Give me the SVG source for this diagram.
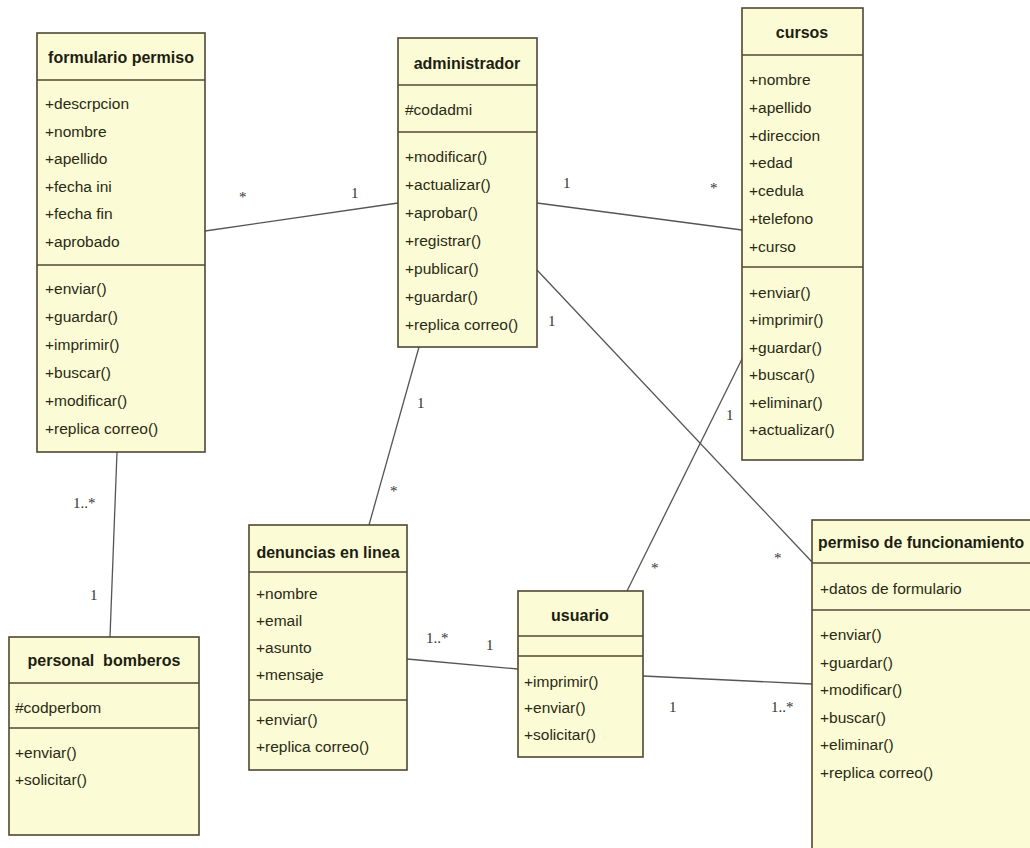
<svg xmlns="http://www.w3.org/2000/svg" width="1030" height="848" viewBox="0 0 1030 848">
<style>
.box{fill:#fbfbd6;stroke:#4f4834;stroke-width:1.6}
.sep{stroke:#4f4834;stroke-width:1.6}
.t{font-family:"Liberation Sans",Arial,sans-serif;font-size:15.5px;fill:#2a2a14}
.h{font-family:"Liberation Sans",Arial,sans-serif;font-size:16px;font-weight:bold;fill:#1e1e10;text-anchor:middle}
.m{font-family:"Liberation Serif","Times New Roman",serif;font-size:15px;fill:#333333}
.c{stroke:#555;stroke-width:1.3;fill:none}
</style>
<rect width="1030" height="848" fill="#ffffff"/>
<g id="connectors">
<line class="c" x1="205" y1="231" x2="398" y2="203"/>
<line class="c" x1="537" y1="203" x2="742" y2="230"/>
<line class="c" x1="537" y1="270" x2="812" y2="562"/>
<line class="c" x1="419" y1="347" x2="369" y2="525"/>
<line class="c" x1="743" y1="357" x2="627" y2="591"/>
<line class="c" x1="407" y1="659" x2="518" y2="669"/>
<line class="c" x1="643" y1="676" x2="812" y2="684"/>
<line class="c" x1="117" y1="452" x2="110" y2="637"/>
<text class="m" x="239" y="202">*</text>
<text class="m" x="351" y="198">1</text>
<text class="m" x="563" y="188">1</text>
<text class="m" x="710" y="193">*</text>
<text class="m" x="548" y="326">1</text>
<text class="m" x="774" y="563">*</text>
<text class="m" x="417" y="408">1</text>
<text class="m" x="390" y="496">*</text>
<text class="m" x="726" y="420">1</text>
<text class="m" x="651" y="573">*</text>
<text class="m" x="426" y="643">1..*</text>
<text class="m" x="486" y="650">1</text>
<text class="m" x="669" y="712">1</text>
<text class="m" x="771" y="712">1..*</text>
<text class="m" x="73" y="508">1..*</text>
<text class="m" x="90" y="600">1</text>
</g>
<g id="formulario-permiso">
<rect class="box" x="37" y="33" width="168" height="419"/>
<line class="sep" x1="37" y1="80" x2="205" y2="80"/>
<line class="sep" x1="37" y1="265" x2="205" y2="265"/>
<text class="h" x="121" y="63">formulario permiso</text>
<text class="t" x="45" y="109">+descrpcion</text>
<text class="t" x="45" y="136.5">+nombre</text>
<text class="t" x="45" y="164">+apellido</text>
<text class="t" x="45" y="191.5">+fecha ini</text>
<text class="t" x="45" y="219">+fecha fin</text>
<text class="t" x="45" y="246.5">+aprobado</text>
<text class="t" x="45" y="294">+enviar()</text>
<text class="t" x="45" y="322">+guardar()</text>
<text class="t" x="45" y="350">+imprimir()</text>
<text class="t" x="45" y="378">+buscar()</text>
<text class="t" x="45" y="406">+modificar()</text>
<text class="t" x="45" y="434">+replica correo()</text>
</g>
<g id="administrador">
<rect class="box" x="398" y="38" width="139" height="309"/>
<line class="sep" x1="398" y1="85" x2="537" y2="85"/>
<line class="sep" x1="398" y1="132" x2="537" y2="132"/>
<text class="h" x="467" y="69">administrador</text>
<text class="t" x="405" y="115">#codadmi</text>
<text class="t" x="405" y="162">+modificar()</text>
<text class="t" x="405" y="190">+actualizar()</text>
<text class="t" x="405" y="218">+aprobar()</text>
<text class="t" x="405" y="246">+registrar()</text>
<text class="t" x="405" y="274">+publicar()</text>
<text class="t" x="405" y="302">+guardar()</text>
<text class="t" x="405" y="330">+replica correo()</text>
</g>
<g id="cursos">
<rect class="box" x="742" y="8" width="121" height="452"/>
<line class="sep" x1="742" y1="55" x2="863" y2="55"/>
<line class="sep" x1="742" y1="267" x2="863" y2="267"/>
<text class="h" x="802" y="38">cursos</text>
<text class="t" x="749" y="85">+nombre</text>
<text class="t" x="749" y="112.8">+apellido</text>
<text class="t" x="749" y="140.6">+direccion</text>
<text class="t" x="749" y="168.4">+edad</text>
<text class="t" x="749" y="196.2">+cedula</text>
<text class="t" x="749" y="224">+telefono</text>
<text class="t" x="749" y="251.8">+curso</text>
<text class="t" x="749" y="298">+enviar()</text>
<text class="t" x="749" y="325.4">+imprimir()</text>
<text class="t" x="749" y="352.8">+guardar()</text>
<text class="t" x="749" y="380.2">+buscar()</text>
<text class="t" x="749" y="407.6">+eliminar()</text>
<text class="t" x="749" y="435">+actualizar()</text>
</g>
<g id="personal-bomberos">
<rect class="box" x="9" y="637" width="190" height="198"/>
<line class="sep" x1="9" y1="683" x2="199" y2="683"/>
<line class="sep" x1="9" y1="728" x2="199" y2="728"/>
<text class="h" x="104" y="666" xml:space="preserve">personal  bomberos</text>
<text class="t" x="15" y="713">#codperbom</text>
<text class="t" x="15" y="758">+enviar()</text>
<text class="t" x="15" y="785">+solicitar()</text>
</g>
<g id="denuncias-en-linea">
<rect class="box" x="249" y="525" width="158" height="245"/>
<line class="sep" x1="249" y1="572" x2="407" y2="572"/>
<line class="sep" x1="249" y1="700" x2="407" y2="700"/>
<text class="h" x="328" y="558">denuncias en linea</text>
<text class="t" x="256" y="599">+nombre</text>
<text class="t" x="256" y="626">+email</text>
<text class="t" x="256" y="653">+asunto</text>
<text class="t" x="256" y="680">+mensaje</text>
<text class="t" x="256" y="725">+enviar()</text>
<text class="t" x="256" y="752">+replica correo()</text>
</g>
<g id="usuario">
<rect class="box" x="518" y="591" width="125" height="166"/>
<line class="sep" x1="518" y1="636" x2="643" y2="636"/>
<line class="sep" x1="518" y1="656" x2="643" y2="656"/>
<text class="h" x="580" y="621">usuario</text>
<text class="t" x="524" y="687">+imprimir()</text>
<text class="t" x="524" y="713">+enviar()</text>
<text class="t" x="524" y="740">+solicitar()</text>
</g>
<g id="permiso-de-funcionamiento">
<rect class="box" x="812" y="520" width="240" height="340"/>
<line class="sep" x1="812" y1="563" x2="1040" y2="563"/>
<line class="sep" x1="812" y1="610" x2="1040" y2="610"/>
<text class="h" x="818" y="548" style="text-anchor:start;font-size:15.8px">permiso de funcionamiento</text>
<text class="t" x="820" y="594">+datos de formulario</text>
<text class="t" x="820" y="640">+enviar()</text>
<text class="t" x="820" y="667.5">+guardar()</text>
<text class="t" x="820" y="695">+modificar()</text>
<text class="t" x="820" y="722.5">+buscar()</text>
<text class="t" x="820" y="750">+eliminar()</text>
<text class="t" x="820" y="777.5">+replica correo()</text>
</g>
</svg>
